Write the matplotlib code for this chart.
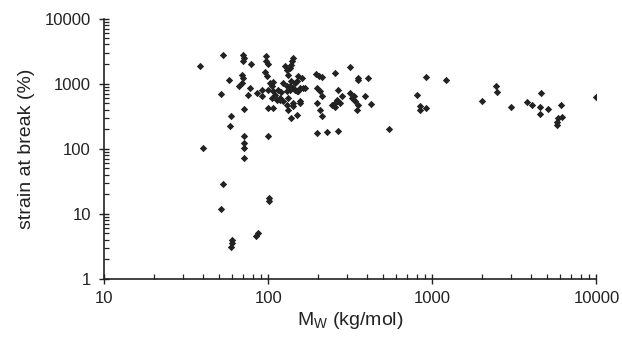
import numpy as np
import matplotlib
matplotlib.use("Agg")
from matplotlib import pyplot as plt
from matplotlib.ticker import LogLocator, FixedLocator, FixedFormatter, NullFormatter

plt.rcParams["font.family"] = ["Liberation Sans", "DejaVu Sans"]
plt.rcParams["mathtext.fontset"] = "custom"
plt.rcParams["mathtext.rm"] = "Liberation Sans"

# molecular weight (kg/mol) and strain at break (%)
mw = [38.2, 39.8, 52.8, 51.2, 59.0, 58.6, 57.4,
      71.2, 71.2, 71.2, 71.2, 71.2, 99.7,
      52.8, 51.2, 59.5, 59.5, 59.0, 83.6, 86.3, 101, 101,
      70.2, 70.2, 71.2, 78.2, 96.6, 96.6, 99.7, 95.2, 97.5,
      142, 140, 138, 136, 129, 126, 132,
      68.7, 70.2, 68.7, 66.4, 77.1, 74.5, 84.7, 90.9, 90.9,
      102, 105, 99.7, 107, 110, 105, 112, 118, 115, 120, 107,
      129, 135, 145, 142, 149, 156, 167, 152, 159, 132, 142, 156,
      123, 129, 135, 138, 118, 123, 129, 132, 99.7, 107,
      149, 145, 152, 163, 156, 142, 138, 149, 197, 226,
      195, 203, 211, 197, 206, 211, 197, 206, 211,
      256, 243, 256, 267, 279, 260, 254, 273, 267,
      314, 353, 353, 402, 314, 321, 337, 353, 330, 345, 388, 420,
      545, 909, 1203, 801, 840, 840, 913, 1995, 2428, 2484, 2999,
      3785, 4028, 4593, 4520, 4520, 5082, 6079, 5848, 6138, 5768, 5768, 9931]
strain = [1845, 102, 2793, 684, 322, 226, 1125,
          155, 122, 102, 71, 408, 155,
          28.6, 11.9, 3.98, 3.54, 3.07, 4.59, 5.05, 17.4, 15.9,
          2793, 2203, 2485, 2032, 2630, 2203, 2032, 1492, 1330,
          2485, 2203, 1960, 1744, 1641, 1845, 1375,
          1375, 1224, 1025, 931, 850, 680, 720, 800, 638,
          1025, 908, 808, 762, 677, 603, 567, 603, 808, 735, 1050,
          762, 908, 1025, 859, 762, 859, 859, 1295, 1224, 603, 505, 505,
          1025, 908, 808, 1085, 567, 535, 475, 398, 423, 423,
          1085, 808, 762, 859, 535, 448, 297, 334, 175, 182,
          1400, 1330, 1280, 859, 762, 638, 505, 398, 322,
          1461, 475, 432, 808, 638, 567, 505, 505, 185,
          1782, 1224, 1125, 1224, 720, 603, 535, 475, 638, 398, 638, 493,
          198, 1268, 1125, 661, 459, 398, 417, 535, 931, 735, 438,
          516, 475, 720, 438, 342, 403, 475, 297, 303, 254, 234, 631]

x_ticks = [10, 100, 1000, 10000]
y_ticks = [1, 10, 100, 1000, 10000]

ink = "#222222"

fig = plt.figure(figsize=(6.22, 3.43), dpi=100)
ax = fig.add_axes([0.168, 0.187, 0.791, 0.759])

ax.scatter(mw, strain, marker="D", s=14, color=ink, linewidths=0, zorder=3)

ax.set_xscale("log")
ax.set_yscale("log")
ax.set_xlim(10, 10000)
ax.set_ylim(1, 10000)

ax.xaxis.set_major_locator(FixedLocator(x_ticks))
ax.xaxis.set_major_formatter(FixedFormatter([str(v) for v in x_ticks]))
ax.yaxis.set_major_locator(FixedLocator(y_ticks))
ax.yaxis.set_major_formatter(FixedFormatter([str(v) for v in y_ticks]))
ax.xaxis.set_minor_locator(LogLocator(base=10, subs=np.arange(2, 10)))
ax.yaxis.set_minor_locator(LogLocator(base=10, subs=np.arange(2, 10)))
ax.xaxis.set_minor_formatter(NullFormatter())
ax.yaxis.set_minor_formatter(NullFormatter())

for side in ["top", "right"]:
    ax.spines[side].set_visible(False)
for side in ["left", "bottom"]:
    ax.spines[side].set_color(ink)
    ax.spines[side].set_linewidth(1.2)

ax.tick_params(which="major", direction="inout", length=7.5, width=1.0,
               color=ink, labelsize=12, labelcolor=ink)
ax.tick_params(which="minor", direction="in", length=3.8, width=0.9, color=ink)
ax.tick_params(axis="x", which="major", pad=5)
ax.tick_params(axis="y", which="major", pad=6)

ax.set_xlabel("M$_\\mathrm{W}$ (kg/mol)", fontsize=14, color=ink, labelpad=3)
ax.set_ylabel("strain at break (%)", fontsize=14, color=ink, labelpad=7)

fig.savefig("out.png", dpi=100)
